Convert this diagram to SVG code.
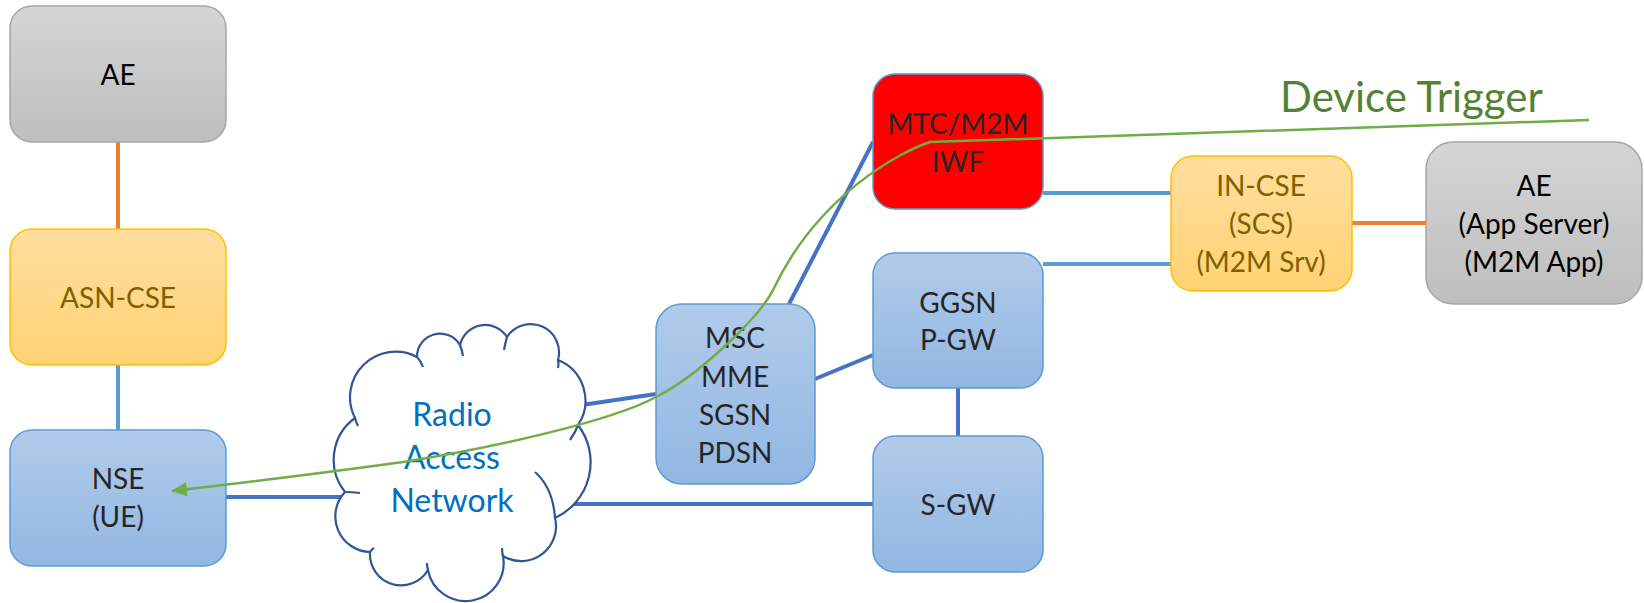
<svg xmlns="http://www.w3.org/2000/svg" width="1644" height="603" viewBox="0 0 1644 603">
  <style>
    .lbl { font-family: Lato, "Liberation Sans", sans-serif; font-size: 28px; text-anchor: middle; }
    .dark { fill: #262626; }
    .black { fill: #000000; }
    .olive { fill: #7F6000; }
    .ran { font-family: Lato, "Liberation Sans", sans-serif; font-size: 32px; text-anchor: middle; fill: #0070C0; }
    .gray { fill: url(#gGray); stroke: #A6A6A6; stroke-width: 1.5; }
    .gold { fill: url(#gGold); stroke: #FFC000; stroke-width: 1.5; }
    .blue { fill: url(#gBlue); stroke: #5B9BD5; stroke-width: 1.5; }
    .red { fill: #FF0000; stroke: #5B9BD5; stroke-width: 1.5; }
    .c-or { stroke: #ED7D31; stroke-width: 4; fill: none; }
    .c-lb { stroke: #5B9BD5; stroke-width: 4; fill: none; }
    .c-db { stroke: #4472C4; stroke-width: 4; fill: none; }
    .cloud { fill: #FFFFFF; stroke: #2F5597; stroke-width: 2.2; }
    .tick { fill: none; stroke: #2F5597; stroke-width: 2.2; }
    .trig { fill: none; stroke: #70AD47; stroke-width: 2.5; }
  </style>
  <defs>
    <linearGradient id="gGray" x1="0" y1="0" x2="0" y2="1">
      <stop offset="0" stop-color="#D5D5D5"/>
      <stop offset="1" stop-color="#BEBEBE"/>
    </linearGradient>
    <linearGradient id="gGold" x1="0" y1="0" x2="0" y2="1">
      <stop offset="0" stop-color="#FFDE9E"/>
      <stop offset="1" stop-color="#FFD373"/>
    </linearGradient>
    <linearGradient id="gBlue" x1="0" y1="0" x2="0" y2="1">
      <stop offset="0" stop-color="#B1CBEA"/>
      <stop offset="1" stop-color="#92B7E2"/>
    </linearGradient>
    <marker id="arrowG" viewBox="0 0 16 14" refX="15" refY="7" markerWidth="16" markerHeight="14" markerUnits="userSpaceOnUse" orient="auto">
      <path d="M0,0 L16,7 L0,14 z" fill="#70AD47"/>
    </marker>
  </defs>

  <g id="connectors">
    <line class="c-or" x1="118" y1="142" x2="118" y2="229"/>
    <line class="c-lb" x1="118" y1="365" x2="118" y2="430"/>
    <line class="c-db" x1="226" y1="497" x2="345" y2="497"/>
    <line class="c-db" x1="575" y1="406" x2="656" y2="394"/>
    <line class="c-db" x1="565" y1="504" x2="873" y2="504"/>
    <line class="c-db" x1="815" y1="379" x2="873" y2="355"/>
    <line class="c-db" x1="789" y1="304" x2="873" y2="142"/>
    <line class="c-db" x1="958" y1="388" x2="958" y2="436"/>
    <line class="c-lb" x1="1043" y1="193" x2="1171" y2="193"/>
    <line class="c-lb" x1="1043" y1="264" x2="1171" y2="264"/>
    <line class="c-or" x1="1352" y1="223" x2="1426" y2="223"/>
  </g>

  <g id="ae-left">
    <rect class="gray" x="10" y="6" width="216" height="136" rx="22" ry="22"/>
    <text class="lbl black" x="118" y="85">AE</text>
  </g>

  <g id="asn-cse">
    <rect class="gold" x="10" y="229" width="216" height="136" rx="22" ry="22"/>
    <text class="lbl olive" x="118" y="308">ASN-CSE</text>
  </g>

  <g id="nse">
    <rect class="blue" x="10" y="430" width="216" height="136" rx="22" ry="22"/>
    <text class="lbl dark" x="118" y="489">NSE</text>
    <text class="lbl dark" x="118" y="527">(UE)</text>
  </g>

  <g id="ran">
    <path class="cloud" d="M355,418 A45.6,45.6 0 0,1 417,357 A23.1,23.1 0 0,1 460,345 A25.8,25.8 0 0,1 507,337 A28.3,28.3 0 0,1 558,360 A43.8,43.8 0 0,1 578,425 A61.4,61.4 0 0,1 555,518 A34.8,34.8 0 0,1 503,556 A38,38 0 0,1 428,570 A31.2,31.2 0 0,1 370,552 A35.6,35.6 0 0,1 345,492 A51.6,51.6 0 0,1 355,418 Z"/>
    <path class="tick" d="M417,357 Q421,361 423,367"/>
    <path class="tick" d="M460,345 Q462,350 463,356"/>
    <path class="tick" d="M507,337 Q505,344 504,350"/>
    <path class="tick" d="M558,360 Q559,364 558,368"/>
    <path class="tick" d="M578,425 Q575,433 570,440"/>
    <path class="tick" d="M555,518 Q553,488 535,472"/>
    <path class="tick" d="M503,556 Q502,552 502,548"/>
    <path class="tick" d="M428,570 Q427,567 427,563"/>
    <path class="tick" d="M370,552 Q371,550 374,548"/>
    <path class="tick" d="M345,492 Q352,492 360,493"/>
    <path class="tick" d="M355,418 Q356,422 358,426"/>
    <text class="ran" x="452" y="426">Radio</text>
    <text class="ran" x="452" y="469">Access</text>
    <text class="ran" x="452" y="512">Network</text>
  </g>

  <g id="msc">
    <rect class="blue" x="656" y="304" width="159" height="180" rx="26" ry="26"/>
    <text class="lbl dark" x="735" y="348">MSC</text>
    <text class="lbl dark" x="735" y="387">MME</text>
    <text class="lbl dark" x="735" y="425">SGSN</text>
    <text class="lbl dark" x="735" y="463">PDSN</text>
  </g>

  <g id="iwf">
    <rect class="red" x="873" y="74" width="170" height="135" rx="22" ry="22"/>
    <text class="lbl dark" x="958" y="134">MTC/M2M</text>
    <text class="lbl dark" x="958" y="172">IWF</text>
  </g>

  <g id="ggsn">
    <rect class="blue" x="873" y="253" width="170" height="135" rx="22" ry="22"/>
    <text class="lbl dark" x="958" y="313">GGSN</text>
    <text class="lbl dark" x="958" y="350">P-GW</text>
  </g>

  <g id="sgw">
    <rect class="blue" x="873" y="436" width="170" height="136" rx="22" ry="22"/>
    <text class="lbl dark" x="958" y="515">S-GW</text>
  </g>

  <g id="in-cse">
    <rect class="gold" x="1171" y="156" width="181" height="135" rx="22" ry="22"/>
    <text class="lbl olive" x="1261" y="196">IN-CSE</text>
    <text class="lbl olive" x="1261" y="234">(SCS)</text>
    <text class="lbl olive" x="1261" y="272">(M2M Srv)</text>
  </g>

  <g id="ae-right">
    <rect class="gray" x="1426" y="142" width="216" height="162" rx="27" ry="27"/>
    <text class="lbl black" x="1534" y="196">AE</text>
    <text class="lbl black" x="1534" y="234">(App Server)</text>
    <text class="lbl black" x="1534" y="272">(M2M App)</text>
  </g>

  <g id="device-trigger">
    <path class="trig" marker-end="url(#arrowG)" d="M1589,120 L930,142 C900,152 818,195 773,290 C760,316 700,375 656,397 C610,422 490,448 403,462 C330,472 250,482 172,491"/>
    <text x="1280" y="112" font-family="Lato, 'Liberation Sans', sans-serif" font-size="42" fill="#548235">Device Trigger</text>
  </g>
</svg>
